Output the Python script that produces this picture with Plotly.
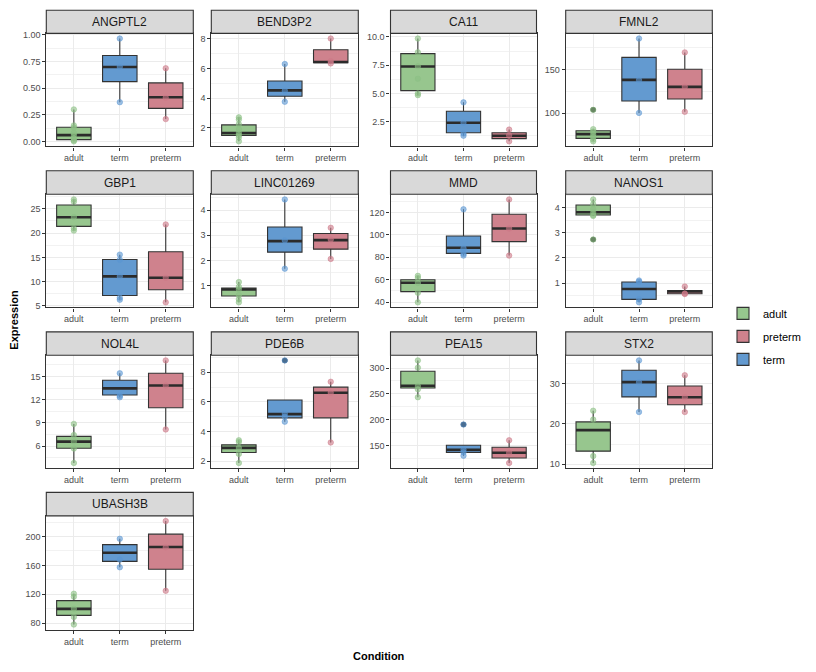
import plotly.graph_objects as go

# ---------------- data ----------------
genes = ["ANGPTL2", "BEND3P2", "CA11", "FMNL2", "GBP1", "LINC01269", "MMD",
         "NANOS1", "NOL4L", "PDE6B", "PEA15", "STX2", "UBASH3B"]
conditions = ["adult", "term", "preterm"]
legend_order = ["adult", "preterm", "term"]

# observed points per condition
pts_ANGPTL2 = {"adult": [0.30, 0.15, 0.13, 0.08, 0.06, 0.03, 0.01, 0.00],
               "term": [0.966, 0.70, 0.368], "preterm": [0.687, 0.41, 0.209]}
pts_BEND3P2 = {"adult": [2.71, 2.56, 2.25, 1.9, 1.65, 1.5, 1.35, 1.09],
               "term": [6.31, 4.5, 3.76], "preterm": [8.03, 6.5, 6.35]}
pts_CA11 = {"adult": [9.86, 8.64, 7.4, 6.3, 5.0, 4.85],
            "term": [4.21, 2.4, 1.45, 1.26], "preterm": [1.8, 1.3, 0.76]}
pts_FMNL2 = {"adult": [103.9, 81.8, 79, 76, 73, 70, 67.8],
             "term": [185.7, 138, 100.4], "preterm": [169.8, 130.3, 101.6]}
pts_GBP1 = {"adult": [26.94, 26.47, 23.3, 21.0, 20.52],
            "term": [15.57, 14.5, 11.1, 6.7, 6.27], "preterm": [21.79, 10.82, 5.74]}
pts_LINC01269 = {"adult": [1.14, 0.95, 0.85, 0.62, 0.45, 0.33],
                 "term": [4.43, 2.8, 1.67], "preterm": [3.30, 2.83, 2.06]}
pts_MMD = {"adult": [63.4, 61.5, 57, 48.2, 39.7],
           "term": [122.9, 88, 83, 81.5], "preterm": [131.7, 105.7, 81.5]}
pts_NANOS1 = {"adult": [4.34, 4.15, 3.95, 3.83, 3.72, 3.68, 2.74],
              "term": [1.10, 1.05, 0.35, 0.227], "preterm": [0.86, 0.58, 0.56]}
pts_NOL4L = {"adult": [8.87, 7.43, 6.6, 5.68, 3.81],
             "term": [15.43, 12.5, 12.32], "preterm": [17.09, 13.85, 8.15]}
pts_PDE6B = {"adult": [3.42, 3.3, 2.9, 2.5, 1.89],
             "term": [8.8, 5.2, 5.0, 4.67], "preterm": [7.36, 6.62, 3.27]}
pts_PEA15 = {"adult": [314.7, 300.7, 265, 258.7, 243.5],
             "term": [190.7, 142, 137, 130.3], "preterm": [160.2, 136, 116.3]}
pts_STX2 = {"adult": [23.25, 21.06, 12.03, 10.33],
            "term": [35.69, 30.3, 22.93], "preterm": [32.03, 26.6, 22.93]}
pts_UBASH3B = {"adult": [120.8, 116.7, 100, 88.6, 78.2],
               "term": [196.8, 168, 157.4], "preterm": [221.3, 185, 124.8]}

# box statistics: (lower whisker, q1, median, q3, upper whisker)
box_ANGPTL2 = {"adult": (0.00, 0.016, 0.058, 0.132, 0.30),
               "term": (0.368, 0.561, 0.699, 0.807, 0.966),
               "preterm": (0.209, 0.31, 0.414, 0.549, 0.687)}
box_BEND3P2 = {"adult": (1.09, 1.49, 1.65, 2.2, 2.71),
               "term": (3.76, 4.13, 4.53, 5.16, 6.31),
               "preterm": (6.35, 6.4, 6.45, 7.27, 8.03)}
box_CA11 = {"adult": (4.85, 5.25, 7.39, 8.52, 9.86),
            "term": (1.26, 1.52, 2.41, 3.43, 4.21),
            "preterm": (0.76, 1.0, 1.26, 1.52, 1.8)}
box_FMNL2 = {"adult": (67.8, 71.2, 76.1, 80, 81.8),
             "term": (100.4, 114.1, 138.3, 164.1, 185.7),
             "preterm": (101.6, 116.4, 130.3, 150.5, 169.8)}
box_GBP1 = {"adult": (20.52, 21.39, 23.26, 25.8, 26.94),
            "term": (6.27, 7.14, 11.09, 14.57, 15.57),
            "preterm": (5.74, 8.34, 10.82, 16.17, 21.79)}
box_LINC01269 = {"adult": (0.33, 0.586, 0.845, 0.897, 1.14),
                 "term": (1.67, 2.33, 2.77, 3.33, 4.43),
                 "preterm": (2.06, 2.45, 2.81, 3.07, 3.30)}
box_MMD = {"adult": (39.7, 49.3, 57.2, 59.9, 63.4),
           "term": (81.5, 83.5, 88.5, 99, 122.9),
           "preterm": (81.5, 94, 105.7, 118.5, 131.7)}
box_NANOS1 = {"adult": (3.68, 3.72, 3.83, 4.12, 4.34),
              "term": (0.227, 0.345, 0.76, 1.04, 1.10),
              "preterm": (0.55, 0.57, 0.66, 0.70, 0.86)}
box_NOL4L = {"adult": (3.81, 5.72, 6.57, 7.26, 8.87),
             "term": (12.32, 12.62, 13.47, 14.53, 15.43),
             "preterm": (8.15, 10.96, 13.85, 15.43, 17.09)}
box_PDE6B = {"adult": (1.89, 2.6, 2.91, 3.11, 3.42),
             "term": (4.67, 4.93, 5.18, 6.13, 6.13),
             "preterm": (3.27, 4.93, 6.62, 7.0, 7.36)}
box_PEA15 = {"adult": (243.5, 261.3, 265.7, 293.7, 314.7),
             "term": (130.3, 136.6, 141.7, 150.6, 150.6),
             "preterm": (116.3, 125.8, 136, 146.8, 160.2)}
box_STX2 = {"adult": (10.33, 13.25, 18.46, 20.49, 23.25),
            "term": (22.93, 26.67, 30.33, 33.25, 35.69),
            "preterm": (22.93, 24.72, 26.59, 29.35, 32.03)}
box_UBASH3B = {"adult": (78.2, 90.9, 99.9, 111.25, 120.8),
               "term": (157.4, 165.6, 177.4, 188.7, 196.8),
               "preterm": (124.8, 154.7, 185.5, 203.2, 221.3)}

# y-axis ticks and labels per panel
ticks_ANGPTL2 = [0, 0.25, 0.5, 0.75, 1.0]
labels_ANGPTL2 = ["0.00", "0.25", "0.50", "0.75", "1.00"]
ticks_BEND3P2 = [2, 4, 6, 8]
ticks_CA11 = [2.5, 5.0, 7.5, 10.0]
labels_CA11 = ["2.5", "5.0", "7.5", "10.0"]
ticks_FMNL2 = [100, 150]
ticks_GBP1 = [5, 10, 15, 20, 25]
ticks_LINC01269 = [1, 2, 3, 4]
ticks_MMD = [40, 60, 80, 100, 120]
ticks_NANOS1 = [1, 2, 3, 4]
ticks_NOL4L = [3, 6, 9, 12, 15]
ticks_PDE6B = [2, 4, 6, 8]
ticks_PEA15 = [150, 200, 250, 300]
ticks_STX2 = [10, 20, 30]
ticks_UBASH3B = [80, 120, 160, 200]

# ---------------- assemble ----------------
points = [pts_ANGPTL2, pts_BEND3P2, pts_CA11, pts_FMNL2, pts_GBP1, pts_LINC01269,
          pts_MMD, pts_NANOS1, pts_NOL4L, pts_PDE6B, pts_PEA15, pts_STX2, pts_UBASH3B]
boxes = [box_ANGPTL2, box_BEND3P2, box_CA11, box_FMNL2, box_GBP1, box_LINC01269,
         box_MMD, box_NANOS1, box_NOL4L, box_PDE6B, box_PEA15, box_STX2, box_UBASH3B]
ticks = [ticks_ANGPTL2, ticks_BEND3P2, ticks_CA11, ticks_FMNL2, ticks_GBP1,
         ticks_LINC01269, ticks_MMD, ticks_NANOS1, ticks_NOL4L, ticks_PDE6B,
         ticks_PEA15, ticks_STX2, ticks_UBASH3B]
tick_labels = [labels_ANGPTL2, None, labels_CA11] + [None] * 10

fill_colors = {"adult": "#97C68E", "term": "#639AD0", "preterm": "#CF828D"}
point_colors = {"adult": "rgba(140,192,132,0.6)", "term": "rgba(90,150,210,0.6)",
                "preterm": "rgba(205,120,135,0.6)"}

W, H = 816, 672
FONT = "Liberation Sans, Arial, sans-serif"
col_x = [(46.3, 193.3), (211.3, 358.3), (390.5, 536.5), (565.7, 712.3)]
row_strip = [(7.3, 30.7), (169.5, 193.3), (332.3, 356.0), (494.5, 518.3)]
row_plot = [(30.7, 145.0), (193.3, 307.7), (356.0, 470.0), (518.3, 633.3)]
BOXW = 0.75

fig = go.Figure()
layout = {}
shapes = []
annotations = []

for k, gene in enumerate(genes):
    r, c = divmod(k, 4)
    ax = "" if k == 0 else str(k + 1)
    xref, yref = "x" + ax, "y" + ax
    pts = points[k]
    bx = boxes[k]

    allv = [v for cnd in conditions for v in pts[cnd]] + \
           [v for cnd in conditions for v in bx[cnd]]
    lo, hi = min(allv), max(allv)
    pad = 0.05 * (hi - lo)
    yr = [lo - pad, hi + pad]

    for i, cnd in enumerate(conditions):
        lw, q1, med, q3, uw = bx[cnd]
        fig.add_trace(go.Box(
            x=[i], q1=[q1], median=[med], q3=[q3], lowerfence=[lw], upperfence=[uw],
            width=BOXW, whiskerwidth=0, fillcolor=fill_colors[cnd],
            line=dict(color="#333333", width=1.1), boxpoints=False,
            name=cnd, legendgroup=cnd, showlegend=(k == 0),
            legendrank=legend_order.index(cnd) + 1,
            xaxis=xref, yaxis=yref, hoverinfo="skip"))
        # thick median line (ggplot fatten)
        fig.add_trace(go.Scatter(
            x=[i - BOXW / 2, i + BOXW / 2], y=[med, med], mode="lines",
            line=dict(color="#2B2B2B", width=2.6), showlegend=False,
            xaxis=xref, yaxis=yref, hoverinfo="skip"))
        # outliers (drawn by the boxplot layer, beneath the points)
        outl = [v for v in pts[cnd] if v > uw + 1e-9 or v < lw - 1e-9]
        if outl:
            fig.add_trace(go.Scatter(
                x=[i] * len(outl), y=outl, mode="markers",
                marker=dict(color="#333333", size=5.5), showlegend=False,
                xaxis=xref, yaxis=yref, hoverinfo="skip"))
        fig.add_trace(go.Scatter(
            x=[i] * len(pts[cnd]), y=pts[cnd], mode="markers",
            marker=dict(color=point_colors[cnd], size=5.5,
                        line=dict(color=point_colors[cnd], width=0.8)),
            showlegend=False, xaxis=xref, yaxis=yref, hoverinfo="skip"))

    x0, x1 = col_x[c]
    py0, py1 = row_plot[r]
    tv = ticks[k]
    step = tv[1] - tv[0]
    minor = [t + step / 2 for t in [tv[0] - step] + tv]
    layout["xaxis" + ax] = dict(
        domain=[x0 / W, x1 / W], anchor=yref, range=[-0.6, 2.6],
        tickmode="array", tickvals=list(range(len(conditions))), ticktext=conditions,
        showgrid=True, gridcolor="#EBEBEB", gridwidth=1, zeroline=False,
        showline=True, mirror=True, linecolor="#333333", linewidth=1.1,
        ticks="outside", ticklen=3, tickcolor="#333333", tickwidth=1,
        tickfont=dict(family=FONT, size=9, color="#4D4D4D"), fixedrange=True)
    ydict = dict(
        domain=[1 - py1 / H, 1 - py0 / H], anchor=xref, range=yr,
        tickmode="array", tickvals=tv,
        showgrid=True, gridcolor="#EBEBEB", gridwidth=1, zeroline=False,
        showline=True, mirror=True, linecolor="#333333", linewidth=1.1,
        ticks="outside", ticklen=3, tickcolor="#333333", tickwidth=1,
        tickfont=dict(family=FONT, size=9, color="#4D4D4D"), fixedrange=True,
        minor=dict(tickmode="array", tickvals=minor, showgrid=True,
                   gridcolor="#F2F2F2", gridwidth=0.6, ticks=""))
    if tick_labels[k] is not None:
        ydict["ticktext"] = tick_labels[k]
    layout["yaxis" + ax] = ydict

    s0, s1 = row_strip[r]
    shapes.append(dict(type="rect", xref="paper", yref="paper",
                       x0=x0 / W, x1=x1 / W, y0=1 - s1 / H, y1=1 - s0 / H,
                       fillcolor="#D9D9D9", line=dict(color="#333333", width=1.1),
                       layer="above"))
    annotations.append(dict(text=gene, xref="paper", yref="paper",
                            x=(x0 + x1) / 2 / W, y=1 - (s0 + s1) / 2 / H,
                            xanchor="center", yanchor="middle", showarrow=False,
                            font=dict(family=FONT, size=12, color="#1A1A1A")))

annotations.append(dict(text="<b>Condition</b>", xref="paper", yref="paper",
                        x=379 / W, y=1 - 660 / H, xanchor="center", yanchor="middle",
                        showarrow=False, font=dict(family=FONT, size=11, color="black")))
annotations.append(dict(text="<b>Expression</b>", xref="paper", yref="paper",
                        x=14 / W, y=1 - 320 / H, xanchor="center", yanchor="middle",
                        textangle=-90, showarrow=False,
                        font=dict(family=FONT, size=11, color="black")))

fig.update_layout(
    width=W, height=H, margin=dict(l=0, r=0, t=0, b=0),
    paper_bgcolor="white", plot_bgcolor="white",
    shapes=shapes, annotations=annotations,
    showlegend=True,
    legend=dict(x=723 / W, y=1 - 299 / H, xanchor="left", yanchor="top",
                font=dict(family=FONT, size=11, color="black"),
                tracegroupgap=4, bgcolor="rgba(0,0,0,0)"),
    **layout)

fig.write_html("out.html")
